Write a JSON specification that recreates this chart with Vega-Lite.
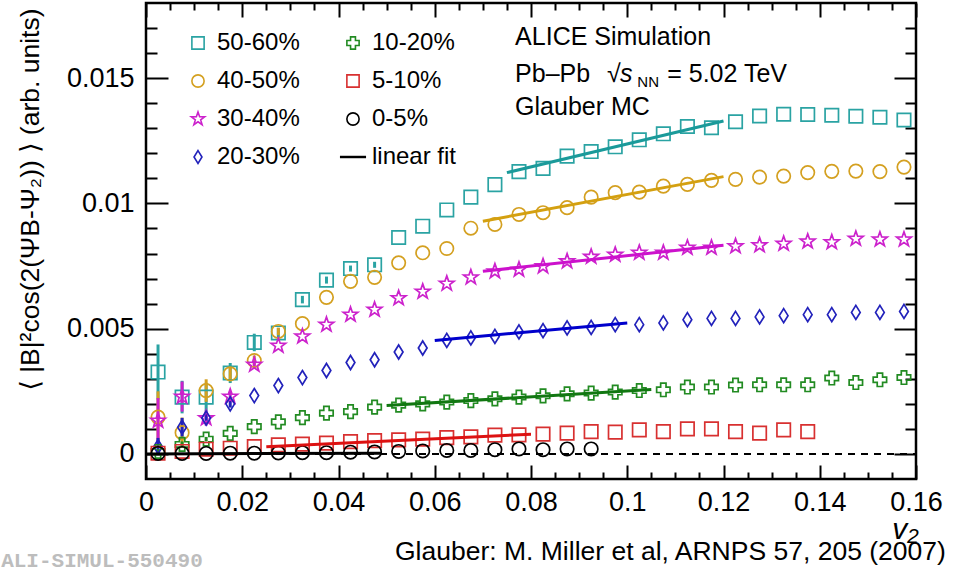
{
  "$schema": "https://vega.github.io/schema/vega-lite/v6.json",
  "width": 770,
  "height": 476,
  "autosize": {"type": "none"},
  "padding": {"left": 146, "top": 3, "right": 50, "bottom": 93},
  "background": "white",
  "config": {
    "view": {"stroke": "black", "strokeWidth": 2.5},
    "axis": {"labelColor": "black", "tickColor": "black", "titleColor": "black", "domain": false, "grid": false, "labelFont": "Liberation Sans", "titleFont": "Liberation Sans, DejaVu Sans"},
    "text": {"font": "Liberation Sans"}
  },
  "datasets": {
    "pts": [
      {"s":"50-60%","x":0.0025,"y":0.00327},{"s":"50-60%","x":0.0075,"y":0.00227},{"s":"50-60%","x":0.0125,"y":0.00227},{"s":"50-60%","x":0.0175,"y":0.00323},{"s":"50-60%","x":0.0225,"y":0.00445},{"s":"50-60%","x":0.0275,"y":0.00483},{"s":"50-60%","x":0.0325,"y":0.00616},{"s":"50-60%","x":0.0375,"y":0.00694},{"s":"50-60%","x":0.0425,"y":0.0074},{"s":"50-60%","x":0.0475,"y":0.00755},{"s":"50-60%","x":0.0525,"y":0.00864},{"s":"50-60%","x":0.0575,"y":0.00909},{"s":"50-60%","x":0.0625,"y":0.00974},{"s":"50-60%","x":0.0675,"y":0.01025},{"s":"50-60%","x":0.0725,"y":0.01075},{"s":"50-60%","x":0.0775,"y":0.01127},{"s":"50-60%","x":0.0825,"y":0.0114},{"s":"50-60%","x":0.0875,"y":0.01189},{"s":"50-60%","x":0.0925,"y":0.01207},{"s":"50-60%","x":0.0975,"y":0.01226},{"s":"50-60%","x":0.1025,"y":0.01254},{"s":"50-60%","x":0.1075,"y":0.01278},{"s":"50-60%","x":0.1125,"y":0.01307},{"s":"50-60%","x":0.1175,"y":0.01302},{"s":"50-60%","x":0.1225,"y":0.01326},{"s":"50-60%","x":0.1275,"y":0.01349},{"s":"50-60%","x":0.1325,"y":0.01356},{"s":"50-60%","x":0.1375,"y":0.01355},{"s":"50-60%","x":0.1425,"y":0.01352},{"s":"50-60%","x":0.1475,"y":0.01348},{"s":"50-60%","x":0.1525,"y":0.01344},{"s":"50-60%","x":0.1575,"y":0.01333},
      {"s":"40-50%","x":0.0025,"y":0.00147},{"s":"40-50%","x":0.0075,"y":0.00085},{"s":"40-50%","x":0.0125,"y":0.00253},{"s":"40-50%","x":0.0175,"y":0.0032},{"s":"40-50%","x":0.0225,"y":0.00373},{"s":"40-50%","x":0.0275,"y":0.00489},{"s":"40-50%","x":0.0325,"y":0.0052},{"s":"40-50%","x":0.0375,"y":0.00625},{"s":"40-50%","x":0.0425,"y":0.00689},{"s":"40-50%","x":0.0475,"y":0.00705},{"s":"40-50%","x":0.0525,"y":0.00763},{"s":"40-50%","x":0.0575,"y":0.00803},{"s":"40-50%","x":0.0625,"y":0.0082},{"s":"40-50%","x":0.0675,"y":0.00901},{"s":"40-50%","x":0.0725,"y":0.00916},{"s":"40-50%","x":0.0775,"y":0.00956},{"s":"40-50%","x":0.0825,"y":0.00963},{"s":"40-50%","x":0.0875,"y":0.00983},{"s":"40-50%","x":0.0925,"y":0.01025},{"s":"40-50%","x":0.0975,"y":0.01043},{"s":"40-50%","x":0.1025,"y":0.01045},{"s":"40-50%","x":0.1075,"y":0.01069},{"s":"40-50%","x":0.1125,"y":0.01076},{"s":"40-50%","x":0.1175,"y":0.01092},{"s":"40-50%","x":0.1225,"y":0.01096},{"s":"40-50%","x":0.1275,"y":0.01105},{"s":"40-50%","x":0.1325,"y":0.01109},{"s":"40-50%","x":0.1375,"y":0.01123},{"s":"40-50%","x":0.1425,"y":0.01128},{"s":"40-50%","x":0.1475,"y":0.01129},{"s":"40-50%","x":0.1525,"y":0.01127},{"s":"40-50%","x":0.1575,"y":0.01145},
      {"s":"30-40%","x":0.0025,"y":0.00133},{"s":"30-40%","x":0.0075,"y":0.00229},{"s":"30-40%","x":0.0125,"y":0.00143},{"s":"30-40%","x":0.0175,"y":0.00229},{"s":"30-40%","x":0.0225,"y":0.00356},{"s":"30-40%","x":0.0275,"y":0.00432},{"s":"30-40%","x":0.0325,"y":0.00469},{"s":"30-40%","x":0.0375,"y":0.00516},{"s":"30-40%","x":0.0425,"y":0.00556},{"s":"30-40%","x":0.0475,"y":0.00576},{"s":"30-40%","x":0.0525,"y":0.00622},{"s":"30-40%","x":0.0575,"y":0.00648},{"s":"30-40%","x":0.0625,"y":0.0068},{"s":"30-40%","x":0.0675,"y":0.00705},{"s":"30-40%","x":0.0725,"y":0.00729},{"s":"30-40%","x":0.0775,"y":0.00736},{"s":"30-40%","x":0.0825,"y":0.00749},{"s":"30-40%","x":0.0875,"y":0.00769},{"s":"30-40%","x":0.0925,"y":0.00787},{"s":"30-40%","x":0.0975,"y":0.00795},{"s":"30-40%","x":0.1025,"y":0.00803},{"s":"30-40%","x":0.1075,"y":0.00803},{"s":"30-40%","x":0.1125,"y":0.00823},{"s":"30-40%","x":0.1175,"y":0.00823},{"s":"30-40%","x":0.1225,"y":0.00829},{"s":"30-40%","x":0.1275,"y":0.00833},{"s":"30-40%","x":0.1325,"y":0.00839},{"s":"30-40%","x":0.1375,"y":0.00848},{"s":"30-40%","x":0.1425,"y":0.00845},{"s":"30-40%","x":0.1475,"y":0.00859},{"s":"30-40%","x":0.1525,"y":0.00856},{"s":"30-40%","x":0.1575,"y":0.00856},
      {"s":"20-30%","x":0.0025,"y":0.00029},{"s":"20-30%","x":0.0075,"y":0.00107},{"s":"20-30%","x":0.0125,"y":0.00143},{"s":"20-30%","x":0.0175,"y":0.002},{"s":"20-30%","x":0.0225,"y":0.00233},{"s":"20-30%","x":0.0275,"y":0.00273},{"s":"20-30%","x":0.0325,"y":0.00305},{"s":"20-30%","x":0.0375,"y":0.00333},{"s":"20-30%","x":0.0425,"y":0.00365},{"s":"20-30%","x":0.0475,"y":0.00376},{"s":"20-30%","x":0.0525,"y":0.00407},{"s":"20-30%","x":0.0575,"y":0.00423},{"s":"20-30%","x":0.0625,"y":0.00453},{"s":"20-30%","x":0.0675,"y":0.00463},{"s":"20-30%","x":0.0725,"y":0.00469},{"s":"20-30%","x":0.0775,"y":0.00487},{"s":"20-30%","x":0.0825,"y":0.00492},{"s":"20-30%","x":0.0875,"y":0.00503},{"s":"20-30%","x":0.0925,"y":0.00505},{"s":"20-30%","x":0.0975,"y":0.00516},{"s":"20-30%","x":0.1025,"y":0.00516},{"s":"20-30%","x":0.1075,"y":0.00523},{"s":"20-30%","x":0.1125,"y":0.00536},{"s":"20-30%","x":0.1175,"y":0.00541},{"s":"20-30%","x":0.1225,"y":0.00541},{"s":"20-30%","x":0.1275,"y":0.00547},{"s":"20-30%","x":0.1325,"y":0.00552},{"s":"20-30%","x":0.1375,"y":0.00556},{"s":"20-30%","x":0.1425,"y":0.00556},{"s":"20-30%","x":0.1475,"y":0.00565},{"s":"20-30%","x":0.1525,"y":0.00565},{"s":"20-30%","x":0.1575,"y":0.00569},
      {"s":"10-20%","x":0.0025,"y":0.0001},{"s":"10-20%","x":0.0075,"y":0.00038},{"s":"10-20%","x":0.0125,"y":0.00059},{"s":"10-20%","x":0.0175,"y":0.00082},{"s":"10-20%","x":0.0225,"y":0.00109},{"s":"10-20%","x":0.0275,"y":0.00128},{"s":"10-20%","x":0.0325,"y":0.00145},{"s":"10-20%","x":0.0375,"y":0.00163},{"s":"10-20%","x":0.0425,"y":0.00169},{"s":"10-20%","x":0.0475,"y":0.00187},{"s":"10-20%","x":0.0525,"y":0.00195},{"s":"10-20%","x":0.0575,"y":0.002},{"s":"10-20%","x":0.0625,"y":0.00207},{"s":"10-20%","x":0.0675,"y":0.00213},{"s":"10-20%","x":0.0725,"y":0.0022},{"s":"10-20%","x":0.0775,"y":0.00227},{"s":"10-20%","x":0.0825,"y":0.00232},{"s":"10-20%","x":0.0875,"y":0.0024},{"s":"10-20%","x":0.0925,"y":0.00243},{"s":"10-20%","x":0.0975,"y":0.00247},{"s":"10-20%","x":0.1025,"y":0.00253},{"s":"10-20%","x":0.1075,"y":0.00256},{"s":"10-20%","x":0.1125,"y":0.00267},{"s":"10-20%","x":0.1175,"y":0.00267},{"s":"10-20%","x":0.1225,"y":0.00275},{"s":"10-20%","x":0.1275,"y":0.00276},{"s":"10-20%","x":0.1325,"y":0.00276},{"s":"10-20%","x":0.1375,"y":0.00276},{"s":"10-20%","x":0.1425,"y":0.00303},{"s":"10-20%","x":0.1475,"y":0.00285},{"s":"10-20%","x":0.1525,"y":0.00296},{"s":"10-20%","x":0.1575,"y":0.00305},
      {"s":"5-10%","x":0.0025,"y":0.00003},{"s":"5-10%","x":0.0075,"y":0.0001},{"s":"5-10%","x":0.0125,"y":0.00019},{"s":"5-10%","x":0.0175,"y":0.00023},{"s":"5-10%","x":0.0225,"y":0.00029},{"s":"5-10%","x":0.0275,"y":0.00036},{"s":"5-10%","x":0.0325,"y":0.00039},{"s":"5-10%","x":0.0375,"y":0.00043},{"s":"5-10%","x":0.0425,"y":0.00049},{"s":"5-10%","x":0.0475,"y":0.00053},{"s":"5-10%","x":0.0525,"y":0.00056},{"s":"5-10%","x":0.0575,"y":0.00059},{"s":"5-10%","x":0.0625,"y":0.00065},{"s":"5-10%","x":0.0675,"y":0.00068},{"s":"5-10%","x":0.0725,"y":0.00075},{"s":"5-10%","x":0.0775,"y":0.00076},{"s":"5-10%","x":0.0825,"y":0.00079},{"s":"5-10%","x":0.0875,"y":0.00083},{"s":"5-10%","x":0.0925,"y":0.00089},{"s":"5-10%","x":0.0975,"y":0.00087},{"s":"5-10%","x":0.1025,"y":0.00096},{"s":"5-10%","x":0.1075,"y":0.00089},{"s":"5-10%","x":0.1125,"y":0.001},{"s":"5-10%","x":0.1175,"y":0.001},{"s":"5-10%","x":0.1225,"y":0.00089},{"s":"5-10%","x":0.1275,"y":0.00083},{"s":"5-10%","x":0.1325,"y":0.00096},{"s":"5-10%","x":0.1375,"y":0.00089},
      {"s":"0-5%","x":0.0025,"y":0.00002},{"s":"0-5%","x":0.0075,"y":0.00002},{"s":"0-5%","x":0.0125,"y":0.00002},{"s":"0-5%","x":0.0175,"y":0.00003},{"s":"0-5%","x":0.0225,"y":0.00003},{"s":"0-5%","x":0.0275,"y":0.00004},{"s":"0-5%","x":0.0325,"y":0.00005},{"s":"0-5%","x":0.0375,"y":0.00005},{"s":"0-5%","x":0.0425,"y":0.00007},{"s":"0-5%","x":0.0475,"y":0.00008},{"s":"0-5%","x":0.0525,"y":0.0001},{"s":"0-5%","x":0.0575,"y":0.00012},{"s":"0-5%","x":0.0625,"y":0.00014},{"s":"0-5%","x":0.0675,"y":0.00014},{"s":"0-5%","x":0.0725,"y":0.00017},{"s":"0-5%","x":0.0775,"y":0.0002},{"s":"0-5%","x":0.0825,"y":0.00017},{"s":"0-5%","x":0.0875,"y":0.0002},{"s":"0-5%","x":0.0925,"y":0.0002}
    ],
    "err": [
      {"s":"50-60%","x":0.0025,"lo":0.00217,"hi":0.00437},{"s":"50-60%","x":0.0075,"lo":0.00162,"hi":0.00292},{"s":"50-60%","x":0.0125,"lo":0.0017,"hi":0.00284},{"s":"50-60%","x":0.0175,"lo":0.00283,"hi":0.00363},{"s":"50-60%","x":0.0225,"lo":0.0041,"hi":0.0048},{"s":"50-60%","x":0.0275,"lo":0.00463,"hi":0.00503},{"s":"50-60%","x":0.0325,"lo":0.00601,"hi":0.00631},{"s":"50-60%","x":0.0375,"lo":0.0068,"hi":0.00708},{"s":"50-60%","x":0.0425,"lo":0.00728,"hi":0.00752},{"s":"50-60%","x":0.0475,"lo":0.00743,"hi":0.00767},
      {"s":"40-50%","x":0.0025,"lo":0.0004,"hi":0.0025},{"s":"40-50%","x":0.0075,"lo":0.00025,"hi":0.00145},{"s":"40-50%","x":0.0125,"lo":0.00208,"hi":0.00298},{"s":"40-50%","x":0.0175,"lo":0.0029,"hi":0.0035},{"s":"40-50%","x":0.0225,"lo":0.00353,"hi":0.00393},{"s":"40-50%","x":0.0275,"lo":0.00474,"hi":0.00504},
      {"s":"30-40%","x":0.0025,"lo":0.00043,"hi":0.00223},{"s":"30-40%","x":0.0075,"lo":0.00169,"hi":0.00289},{"s":"30-40%","x":0.0125,"lo":0.00113,"hi":0.00173},{"s":"30-40%","x":0.0175,"lo":0.00209,"hi":0.00249},{"s":"30-40%","x":0.0225,"lo":0.00341,"hi":0.00371},
      {"s":"20-30%","x":0.0025,"lo":0.00004,"hi":0.00064},{"s":"20-30%","x":0.0075,"lo":0.0007,"hi":0.00144},{"s":"20-30%","x":0.0125,"lo":0.00123,"hi":0.00163},{"s":"20-30%","x":0.0175,"lo":0.00185,"hi":0.00215},
      {"s":"10-20%","x":0.0025,"lo":0.0,"hi":0.0002},{"s":"10-20%","x":0.0075,"lo":0.00026,"hi":0.0005},{"s":"10-20%","x":0.0125,"lo":0.0005,"hi":0.00068}
    ],
    "fits": [
      {"s":"50-60%","x":0.075,"y":0.01123},{"s":"50-60%","x":0.12,"y":0.01329},
      {"s":"40-50%","x":0.07,"y":0.00929},{"s":"40-50%","x":0.12,"y":0.01107},
      {"s":"30-40%","x":0.07,"y":0.00729},{"s":"30-40%","x":0.12,"y":0.00833},
      {"s":"20-30%","x":0.06,"y":0.00453},{"s":"20-30%","x":0.1,"y":0.00523},
      {"s":"10-20%","x":0.05,"y":0.00193},{"s":"10-20%","x":0.105,"y":0.00257},
      {"s":"5-10%","x":0.025,"y":0.00029},{"s":"5-10%","x":0.08,"y":0.00079},
      {"s":"0-5%","x":0.0,"y":0.0},{"s":"0-5%","x":0.049,"y":0.00003}
    ]
  },
  "layer": [
    {
      "data": {"name": "err"},
      "mark": {"type": "rule", "strokeWidth": 3},
      "encoding": {
        "x": {"field": "x", "type": "quantitative", "scale": {"domain": [0, 0.16], "nice": false, "zero": false}, "axis": null},
        "y": {"field": "lo", "type": "quantitative", "scale": {"domain": [-0.001, 0.018], "nice": false, "zero": false}, "axis": null},
        "y2": {"field": "hi"},
        "color": {"field": "s", "type": "nominal", "scale": {"domain": ["50-60%","40-50%","30-40%","20-30%","10-20%"], "range": ["#2aa3a3","#d4a020","#cc22cc","#2222bb","#228b22"]}, "legend": null}
      }
    },
    {
      "data": {"name": "pts"},
      "mark": {"type": "point", "filled": false, "size": 180, "strokeWidth": 1.7, "opacity": 1},
      "encoding": {
        "x": {"field": "x", "type": "quantitative", "scale": {"domain": [0, 0.16], "nice": false, "zero": false},
          "axis": {"orient": "bottom", "values": [0,0.005,0.01,0.015,0.02,0.025,0.03,0.035,0.04,0.045,0.05,0.055,0.06,0.065,0.07,0.075,0.08,0.085,0.09,0.095,0.1,0.105,0.11,0.115,0.12,0.125,0.13,0.135,0.14,0.145,0.15,0.155,0.16],
            "tickSize": {"condition": {"test": "abs(datum.value/0.02 - round(datum.value/0.02)) < 0.01", "value": -14}, "value": -7},
            "tickWidth": 2, "labelOverlap": false, "labelBound": false, "labelFlush": false,
            "labelExpr": "abs(datum.value/0.02 - round(datum.value/0.02)) < 0.01 ? format(datum.value, '~g') : ''",
            "labelFontSize": 27, "labelPadding": 24,
            "title": "v₂", "titleFontSize": 30, "titleFontStyle": "italic", "titleFontWeight": "normal", "titleX": 759, "titleY": 59, "titleAlign": "center", "titleBaseline": "alphabetic", "titleAnchor": null}},
        "y": {"field": "y", "type": "quantitative", "scale": {"domain": [-0.001, 0.018], "nice": false, "zero": false},
          "axis": {"orient": "left", "values": [0,0.001,0.002,0.003,0.004,0.005,0.006,0.007,0.008,0.009,0.01,0.011,0.012,0.013,0.014,0.015,0.016,0.017],
            "tickSize": {"condition": {"test": "abs(datum.value/0.005 - round(datum.value/0.005)) < 0.01", "value": -22}, "value": -11},
            "tickWidth": 2, "labelOverlap": false, "labelBound": false, "labelFlush": false,
            "labelExpr": "abs(datum.value/0.005 - round(datum.value/0.005)) < 0.01 ? format(datum.value, '~g') : ''",
            "labelFontSize": 27, "labelPadding": 34,
            "title": "⟨ |B|²cos(2(ΨB-Ψ₂)) ⟩ (arb. units)", "titleFontSize": 26.5, "titleFontWeight": "normal", "titleAngle": -90, "titleX": -116, "titleY": 5, "titleAlign": "right", "titleBaseline": "middle", "titleAnchor": null}},
        "color": {"field": "s", "type": "nominal",
          "scale": {"domain": ["50-60%","40-50%","30-40%","20-30%","10-20%","5-10%","0-5%","linear fit"], "range": ["#2aa3a3","#d4a020","#cc22cc","#2222bb","#228b22","#d83030","#000000","#000000"]},
          "legend": {"orient": "none", "legendX": 40, "legendY": 28, "columns": 2, "columnPadding": 37, "rowPadding": 14, "title": null, "padding": 0,
            "labelFontSize": 24, "labelFont": "Liberation Sans", "labelColor": "black", "labelOffset": 7, "symbolSize": 150, "symbolStrokeWidth": 1.6, "labelLimit": 300}},
        "shape": {"field": "s", "type": "nominal",
          "scale": {"domain": ["50-60%","40-50%","30-40%","20-30%","10-20%","5-10%","0-5%","linear fit"], "range": ["square","circle","M0,-1.15L0.27,-0.372L1.094,-0.355L0.437,0.142L0.676,0.93L0,0.46L-0.676,0.93L-0.437,0.142L-1.094,-0.355L-0.27,-0.372Z","M0,-1.05L0.65,0L0,1.05L-0.65,0Z","cross","square","circle","M-2,-0.07L2,-0.07L2,0.07L-2,0.07Z"]},
          "legend": {"orient": "none", "legendX": 40, "legendY": 28, "columns": 2, "columnPadding": 37, "rowPadding": 14, "title": null, "padding": 0,
            "labelFontSize": 24, "labelFont": "Liberation Sans", "labelColor": "black", "labelOffset": 7, "symbolSize": 150, "symbolStrokeWidth": 1.6, "labelLimit": 300}}
      }
    },
    {
      "data": {"name": "fits"},
      "mark": {"type": "line", "strokeWidth": 3},
      "encoding": {
        "x": {"field": "x", "type": "quantitative", "scale": {"domain": [0, 0.16], "nice": false, "zero": false}, "axis": null},
        "y": {"field": "y", "type": "quantitative", "scale": {"domain": [-0.001, 0.018], "nice": false, "zero": false}, "axis": null},
        "color": {"field": "s", "type": "nominal", "scale": {"domain": ["50-60%","40-50%","30-40%","20-30%","10-20%","5-10%","0-5%"], "range": ["#1a9a9a","#d4a010","#cc11cc","#0000cc","#117711","#dd1111","#000000"]}, "legend": null}
      }
    },
    {
      "data": {"values": [{"x": 0, "y": 0}, {"x": 0.16, "y": 0}]},
      "mark": {"type": "line", "strokeDash": [7, 6], "strokeWidth": 2, "color": "black"},
      "encoding": {
        "x": {"field": "x", "type": "quantitative", "scale": {"domain": [0, 0.16], "nice": false, "zero": false},
          "axis": {"orient": "top", "values": [0,0.005,0.01,0.015,0.02,0.025,0.03,0.035,0.04,0.045,0.05,0.055,0.06,0.065,0.07,0.075,0.08,0.085,0.09,0.095,0.1,0.105,0.11,0.115,0.12,0.125,0.13,0.135,0.14,0.145,0.15,0.155,0.16],
            "tickSize": {"condition": {"test": "abs(datum.value/0.02 - round(datum.value/0.02)) < 0.01", "value": -14}, "value": -7},
            "tickWidth": 2, "labels": false, "title": null}},
        "y": {"field": "y", "type": "quantitative", "scale": {"domain": [-0.001, 0.018], "nice": false, "zero": false},
          "axis": {"orient": "right", "values": [0,0.001,0.002,0.003,0.004,0.005,0.006,0.007,0.008,0.009,0.01,0.011,0.012,0.013,0.014,0.015,0.016,0.017],
            "tickSize": {"condition": {"test": "abs(datum.value/0.005 - round(datum.value/0.005)) < 0.01", "value": -22}, "value": -11},
            "tickWidth": 2, "labels": false, "title": null}}
      }
    },
    {
      "data": {"values": [
        {"t": "ALICE Simulation", "x": 0.0767, "y": 0.01632},
        {"t": "Pb–Pb", "x": 0.0767, "y": 0.01485},
        {"t": "√", "x": 0.0958, "y": 0.01485},
        {"t": "= 5.02 TeV", "x": 0.1083, "y": 0.01485},
        {"t": "Glauber MC", "x": 0.0767, "y": 0.01353}
      ]},
      "mark": {"type": "text", "align": "left", "baseline": "alphabetic", "fontSize": 25, "color": "black", "font": "Liberation Sans, DejaVu Sans"},
      "encoding": {
        "x": {"field": "x", "type": "quantitative", "scale": {"domain": [0, 0.16], "nice": false, "zero": false}, "axis": null},
        "y": {"field": "y", "type": "quantitative", "scale": {"domain": [-0.001, 0.018], "nice": false, "zero": false}, "axis": null},
        "text": {"field": "t"}
      }
    },
    {
      "data": {"values": [{"t": "s", "x": 0.0985, "y": 0.01485}]},
      "mark": {"type": "text", "align": "left", "baseline": "alphabetic", "fontSize": 25, "fontStyle": "italic", "color": "black"},
      "encoding": {
        "x": {"field": "x", "type": "quantitative", "scale": {"domain": [0, 0.16], "nice": false, "zero": false}, "axis": null},
        "y": {"field": "y", "type": "quantitative", "scale": {"domain": [-0.001, 0.018], "nice": false, "zero": false}, "axis": null},
        "text": {"field": "t"}
      }
    },
    {
      "data": {"values": [{"t": "NN", "x": 0.1021, "y": 0.01485}]},
      "mark": {"type": "text", "align": "left", "baseline": "alphabetic", "fontSize": 15, "dy": 5, "color": "black"},
      "encoding": {
        "x": {"field": "x", "type": "quantitative", "scale": {"domain": [0, 0.16], "nice": false, "zero": false}, "axis": null},
        "y": {"field": "y", "type": "quantitative", "scale": {"domain": [-0.001, 0.018], "nice": false, "zero": false}, "axis": null},
        "text": {"field": "t"}
      }
    },
    {
      "data": {"values": [{"t": "Glauber: M. Miller et al, ARNPS 57, 205 (2007)", "x": 0.1662, "y": -0.00424}]},
      "mark": {"type": "text", "align": "right", "baseline": "alphabetic", "fontSize": 26.5, "color": "black"},
      "encoding": {
        "x": {"field": "x", "type": "quantitative", "scale": {"domain": [0, 0.16], "nice": false, "zero": false}, "axis": null},
        "y": {"field": "y", "type": "quantitative", "scale": {"domain": [-0.001, 0.018], "nice": false, "zero": false}, "axis": null},
        "text": {"field": "t"}
      }
    },
    {
      "data": {"values": [{"t": "ALI-SIMUL-550490", "x": -0.0301, "y": -0.00428}]},
      "mark": {"type": "text", "align": "left", "baseline": "middle", "fontSize": 21, "fontWeight": "bold", "font": "Liberation Mono", "color": "#bdbdbd"},
      "encoding": {
        "x": {"field": "x", "type": "quantitative", "scale": {"domain": [0, 0.16], "nice": false, "zero": false}, "axis": null},
        "y": {"field": "y", "type": "quantitative", "scale": {"domain": [-0.001, 0.018], "nice": false, "zero": false}, "axis": null},
        "text": {"field": "t"}
      }
    }
  ],
  "resolve": {"axis": {"x": "independent", "y": "independent"}, "scale": {"color": "independent", "shape": "independent"}}
}
